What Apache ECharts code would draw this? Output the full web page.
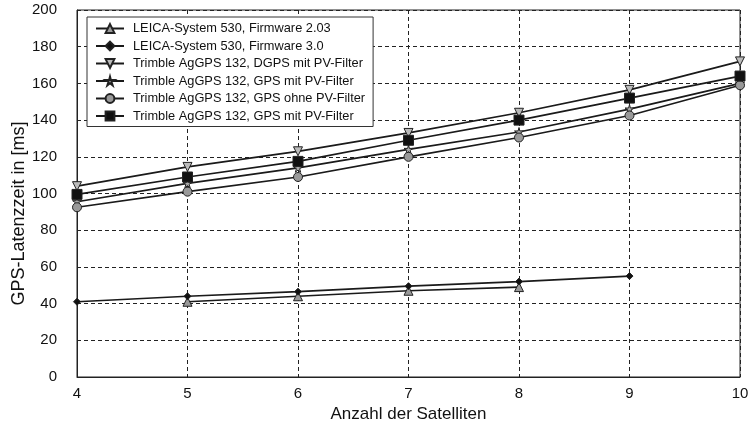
<!DOCTYPE html>
<html>
<head>
<meta charset="utf-8">
<script src="https://cdn.jsdelivr.net/npm/echarts@6/dist/echarts.min.js"></script>
<style>html,body{margin:0;padding:0;background:#fff}#c{width:748px;height:424px}</style>
</head>
<body>
<div id="c"></div>
<script>
var satellites = [4, 5, 6, 7, 8, 9, 10];
var leica203 = [null, 41, 44, 47, 49, null, null];
var leica30 = [41, 44, 46.5, 49.5, 52, 55, null];
var trimbleDgpsPv = [104, 114.5, 123, 133, 144, 156.5, 172];
var trimbleGpsPv = [95.5, 105.5, 114, 124, 133.5, 146, 160];
var trimbleGpsOhnePv = [92.5, 101, 109, 120, 130.5, 142.5, 159];
var trimbleGpsPv2 = [99.5, 109, 117.5, 129, 140, 152, 164];
var seriesNames = [
  'LEICA-System 530, Firmware 2.03',
  'LEICA-System 530, Firmware 3.0',
  'Trimble AgGPS 132, DGPS mit PV-Filter',
  'Trimble AgGPS 132, GPS mit PV-Filter',
  'Trimble AgGPS 132, GPS ohne PV-Filter',
  'Trimble AgGPS 132, GPS mit PV-Filter '
];
var yTicks = [0, 20, 40, 60, 80, 100, 120, 140, 160, 180, 200];

function pairs(vals) {
  var out = [];
  for (var i = 0; i < satellites.length; i++) {
    if (vals[i] !== null) out.push([satellites[i], vals[i]]);
  }
  return out;
}
var starPath = 'path://M50,0 L60,38 L100,38 L68,60 L80,100 L50,75 L20,100 L32,60 L0,38 L40,38 Z';
function mk(name, vals, symbol, size, fill, rotate) {
  return {
    name: name,
    type: 'line',
    data: pairs(vals),
    symbol: symbol,
    symbolSize: size,
    symbolRotate: rotate || 0,
    showSymbol: true,
    lineStyle: { color: '#1a1a1a', width: 1.7 },
    itemStyle: { color: fill, borderColor: '#222', borderWidth: 1 },
    emphasis: { disabled: true },
    animation: false,
    z: 3
  };
}
var chart = echarts.init(document.getElementById('c'));
chart.setOption({
  animation: false,
  backgroundColor: '#fff',
  grid: { left: 77, right: 8, top: 10, bottom: 47, show: true, borderColor: '#222', borderWidth: 1,
    containLabel: false, outerBoundsMode: 'none' },
  legend: {
    orient: 'vertical',
    left: 87,
    top: 17,
    backgroundColor: '#fff',
    borderColor: '#333',
    borderWidth: 1,
    padding: [5, 8, 4, 8],
    itemWidth: 28,
    itemHeight: 11,
    itemGap: 4.5,
    textStyle: { fontFamily: 'Liberation Sans, Arial', fontSize: 12.8, color: '#111', padding: [0, 0, 0, 4] },
    data: seriesNames
  },
  xAxis: {
    type: 'value', min: 4, max: 10, interval: 1,
    name: 'Anzahl der Satelliten', nameLocation: 'middle', nameGap: 25,
    nameTextStyle: { fontFamily: 'Liberation Sans, Arial', fontSize: 17, color: '#111' },
    axisLine: { lineStyle: { color: '#222' } },
    axisTick: { show: false },
    axisLabel: { fontFamily: 'Liberation Sans, Arial', fontSize: 15, color: '#111', margin: 9 },
    splitLine: { show: true, lineStyle: { color: '#222', type: [4, 3], width: 1 } }
  },
  yAxis: {
    type: 'value', min: 0, max: 200, interval: 20,
    name: 'GPS-Latenzzeit in [ms]', nameLocation: 'middle', nameGap: 49, nameMoveOverlap: false,
    nameTextStyle: { fontFamily: 'Liberation Sans, Arial', fontSize: 18, color: '#111', padding: [0, 40, 0, 0] },
    axisLine: { show: true, lineStyle: { color: '#222' } },
    axisTick: { show: false },
    axisLabel: { fontFamily: 'Liberation Sans, Arial', fontSize: 15, color: '#111', margin: 20,
      formatter: function (v) { return yTicks.indexOf(v) >= 0 ? String(v) : ''; } },
    splitLine: { show: true, lineStyle: { color: '#222', type: [4, 3], width: 1 } }
  },
  series: [
    mk(seriesNames[0], leica203, 'triangle', 9, '#999'),
    mk(seriesNames[1], leica30, 'diamond', 7, '#111'),
    mk(seriesNames[2], trimbleDgpsPv, 'triangle', 9, '#bbb', 180),
    mk(seriesNames[3], trimbleGpsPv, starPath, 9, '#aaa'),
    mk(seriesNames[4], trimbleGpsOhnePv, 'circle', 9, '#999'),
    mk(seriesNames[5], trimbleGpsPv2, 'rect', 10, '#111')
  ]
});
</script>
</body>
</html>
